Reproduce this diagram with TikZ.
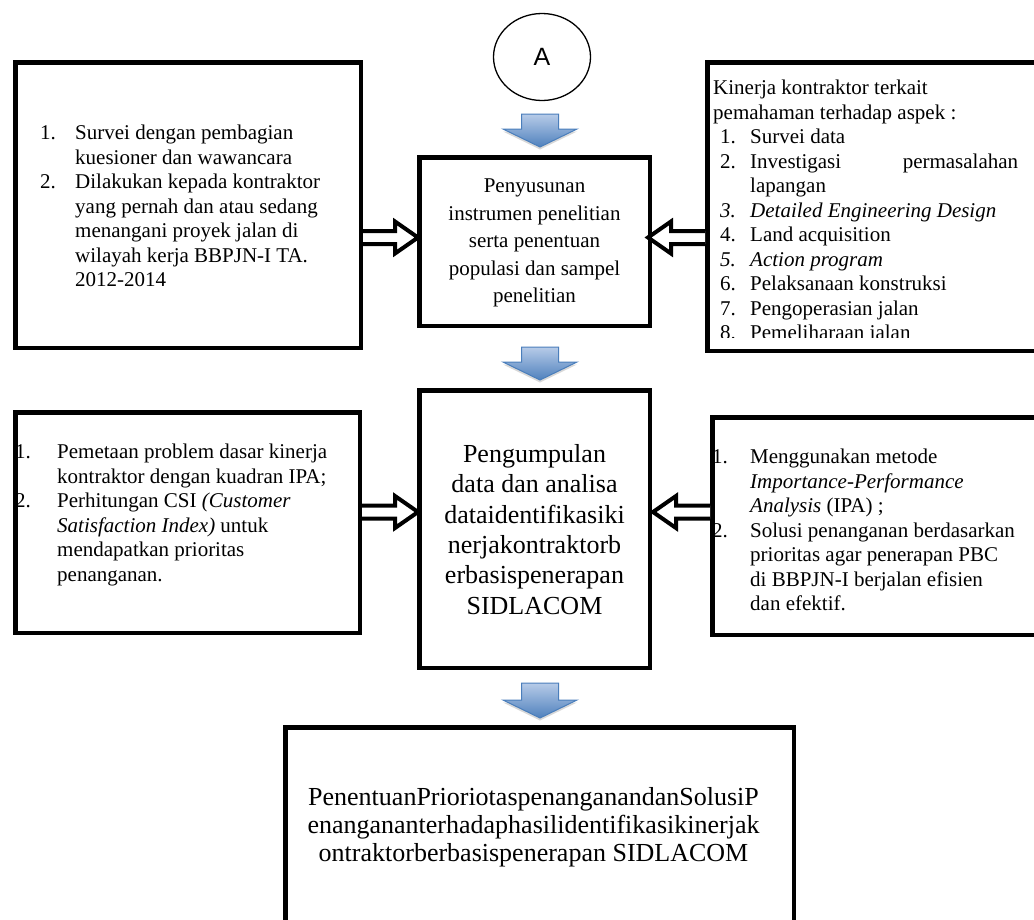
\documentclass[tikz,border=0pt]{standalone}
\usepackage{fontspec}
\setmainfont{Liberation Serif}[Ligatures={TeX,CommonOff}]
\newfontfamily\arialfont{Liberation Sans}
\usetikzlibrary{calc, shapes.geometric, shadows}

\definecolor{arrowtop}{HTML}{B7CBE8}
\definecolor{arrowbot}{HTML}{4F81BD}
\definecolor{arrowline}{HTML}{4A7EBB}

\newlength\numind
\newcommand{\nitem}[2]{\makebox[\numind][l]{#1}#2}
\newcommand{\ncont}[1]{\hspace*{\numind}#1}

\begin{document}
\begin{tikzpicture}
[x=1pt, y=-1pt,
 box/.style={draw, line width=4.5pt, anchor=north west, inner sep=0pt},
 sidetext/.style={anchor=north west, inner sep=0pt, align=left,
   font=\fontsize{21}{24.5}\selectfont\setlength\numind{#1}},
 midtext/.style={anchor=north, inner sep=0pt, align=center},
 blockdown/.style={draw=arrowline, line width=1pt, top color=arrowtop, bottom color=arrowbot,
   drop shadow={shadow xshift=0pt, shadow yshift=-2.5pt, opacity=0.3, fill=gray},
   to path={let \p1=(\tikztostart), \p2=(\tikztotarget) in
     (\x1-18.5pt,\y1) -- (\x1+18.5pt,\y1) -- (\x1+18.5pt,\y2+18pt) -- (\x1+37pt,\y2+18pt)
     -- (\x1,\y2) -- (\x1-37pt,\y2+18pt) -- (\x1-18.5pt,\y2+18pt) -- cycle}},
 hollowr/.style={draw, fill=white, line width=4pt,
   to path={let \p1=(\tikztostart), \p2=(\tikztotarget) in
     (\x1,\y1+6.5pt) -- (\x2-23pt,\y1+6.5pt) -- (\x2-23pt,\y1+16pt) -- (\x2,\y1)
     -- (\x2-23pt,\y1-16pt) -- (\x2-23pt,\y1-6.5pt) -- (\x1,\y1-6.5pt)}},
 hollowl/.style={draw, fill=white, line width=4pt,
   to path={let \p1=(\tikztostart), \p2=(\tikztotarget) in
     (\x1,\y1+6.5pt) -- (\x2+23pt,\y1+6.5pt) -- (\x2+23pt,\y1+16pt) -- (\x2,\y1)
     -- (\x2+23pt,\y1-16pt) -- (\x2+23pt,\y1-6.5pt) -- (\x1,\y1-6.5pt)}}]

\path[use as bounding box, fill=white] (0,0) rectangle (1034,919);
\clip (0,0) rectangle (1034,919);

% boxes
\node[ellipse, draw, line width=1.3pt, minimum width=97, minimum height=87, inner sep=0pt,
  font=\arialfont\fontsize{25}{25}\selectfont] (A) at (542,57) {A};
\node[box, minimum width=345.5, minimum height=285.5] (survey) at (13,60) {};
\node[box, minimum width=230.5, minimum height=168.5] (prep) at (417,155) {};
\node[box, minimum width=355.5, minimum height=288.5] (aspect) at (705,60) {};
\node[box, minimum width=344.5, minimum height=220.5] (mapping) at (13,410) {};
\node[box, minimum width=230.5, minimum height=277.5] (analysis) at (417,388) {};
\node[box, minimum width=355.5, minimum height=217.5] (method) at (710,415) {};
\node[box, minimum width=508.5, minimum height=225.5] (result) at (283,725) {};

% texts
\node[sidetext=35pt] (surveytxt) at ($(survey.north west)+(27,65)$) {%
  \nitem{1.}{Survei dengan pembagian}\\
  \ncont{kuesioner dan wawancara}\\
  \nitem{2.}{Dilakukan kepada kontraktor}\\
  \ncont{yang pernah dan atau sedang}\\
  \ncont{menangani proyek jalan di}\\
  \ncont{wilayah kerja BBPJN-I TA.}\\
  \ncont{2012-2014}};

\node[midtext, font=\fontsize{21}{27.5}\selectfont] (preptxt) at ($(prep.north)+(0,24)$) {%
  Penyusunan\\ instrumen penelitian\\ serta penentuan\\ populasi dan sampel\\ penelitian};

\begin{scope}
\clip (aspect.north west) rectangle ($(aspect.south east)+(0,-16)$);
\node[sidetext=30pt] (aspecttxt) at ($(aspect.north west)+(8,20)$) {%
  Kinerja kontraktor terkait\\
  pemahaman terhadap aspek :\\
  \hspace*{7pt}\nitem{1.}{Survei data}\\
  \hspace*{7pt}\nitem{2.}{\makebox[268pt][s]{Investigasi\hfill permasalahan}}\\
  \hspace*{7pt}\ncont{lapangan}\\
  \hspace*{7pt}\nitem{\textit{3.}}{\textit{Detailed Engineering Design}}\\
  \hspace*{7pt}\nitem{4.}{Land acquisition}\\
  \hspace*{7pt}\nitem{\textit{5.}}{\textit{Action program}}\\
  \hspace*{7pt}\nitem{6.}{Pelaksanaan konstruksi}\\
  \hspace*{7pt}\nitem{7.}{Pengoperasian jalan}\\
  \hspace*{7pt}\nitem{8.}{Pemeliharaan jalan}};
\end{scope}

\node[sidetext=42pt] (mappingtxt) at ($(mapping.north west)+(2,34)$) {%
  \nitem{1.}{Pemetaan problem dasar kinerja}\\
  \ncont{kontraktor dengan kuadran IPA;}\\
  \nitem{2.}{Perhitungan CSI \textit{(Customer}}\\
  \ncont{\textit{Satisfaction Index)} untuk}\\
  \ncont{mendapatkan prioritas}\\
  \ncont{penanganan.}};

\node[midtext, font=\fontsize{26}{30.4}\selectfont] (analysistxt) at ($(analysis.north)+(0,56)$) {%
  Pengumpulan\\ data dan analisa\\ dataidentifikasiki\\ nerjakontraktorb\\ erbasispenerapan\\ SIDLACOM};

\node[sidetext=38pt] (methodtxt) at ($(method.north west)+(2,34)$) {%
  \nitem{1.}{Menggunakan metode}\\
  \ncont{\textit{Importance-Performance}}\\
  \ncont{\textit{Analysis} (IPA) ;}\\
  \nitem{2.}{Solusi penanganan berdasarkan}\\
  \ncont{prioritas agar penerapan PBC}\\
  \ncont{di BBPJN-I berjalan efisien}\\
  \ncont{dan efektif.}};

\node[midtext, font=\fontsize{26}{28}\selectfont] (resulttxt) at ($(result.north)+(-6,62)$) {%
  PenentuanPrioriotaspenanganandanSolusiP\\
  enangananterhadaphasilidentifikasikinerjak\\
  ontraktorberbasispenerapan SIDLACOM};

% arrow ends
\coordinate (d1s) at ($(A.south)+(-2,13)$);
\coordinate (d1e) at ($(prep.north)+(0,-8)$);
\coordinate (d2s) at ($(prep.south)+(5.5,19)$);
\coordinate (d2e) at ($(analysis.north)+(0,-8)$);
\coordinate (d3s) at ($(analysis.south)+(5.5,13)$);
\coordinate (d3e) at ($(result.north)+(0,-7)$);
\coordinate (h1s) at ($(survey.east |- prep.west)+(0,-4)$);
\coordinate (h1e) at ($(prep.west)+(1,0)$);
\coordinate (h2s) at ($(aspect.west |- prep.east)+(0,-4)$);
\coordinate (h2e) at ($(prep.east)+(-4,0)$);
\coordinate (h3s) at ($(mapping.east |- analysis.west)+(0,-17)$);
\coordinate (h3e) at ($(analysis.west)+(1,0)$);
\coordinate (h4s) at ($(method.west |- analysis.east)+(0,-17)$);
\coordinate (h4e) at ($(analysis.east)+(1,0)$);

\draw[blockdown] (d1s) to (d1e);
\draw[blockdown] (d2s) to (d2e);
\draw[blockdown] (d3s) to (d3e);
\draw[hollowr] (h1s) to (h1e);
\draw[hollowl] (h2s) to (h2e);
\draw[hollowr] (h3s) to (h3e);
\draw[hollowl] (h4s) to (h4e);
\end{tikzpicture}
\end{document}
